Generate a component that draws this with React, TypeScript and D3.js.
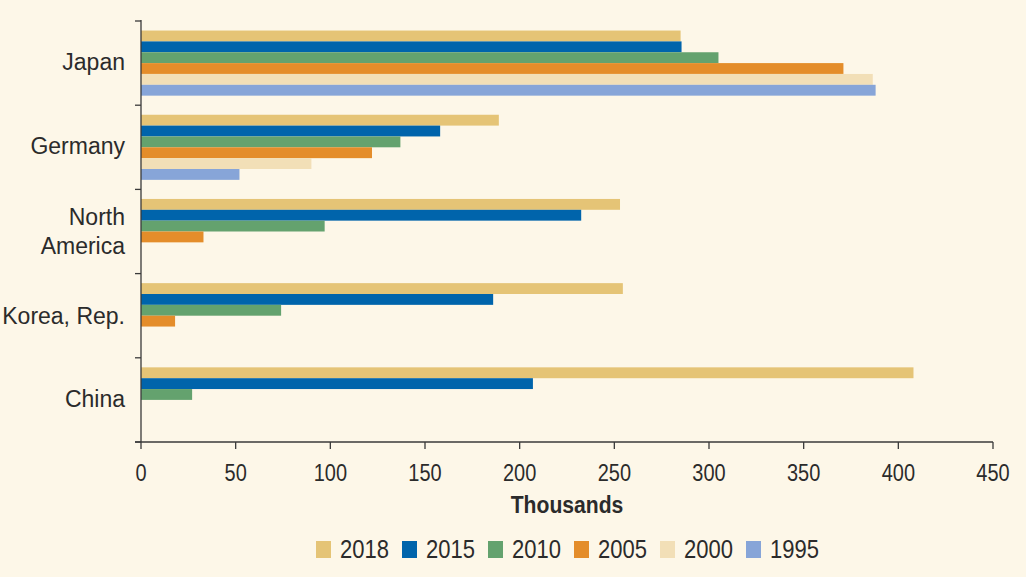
import React from "react";
import * as d3 from "d3";

const categories = ["Japan", "Germany", "North America", "Korea, Rep.", "China"];
const years = ["2018", "2015", "2010", "2005", "2000", "1995"];
const values2018 = [285, 189, 253, 254.5, 408];
const values2015 = [285.5, 158, 232.5, 186, 207];
const values2010 = [305, 137, 97, 74, 27];
const values2005 = [371, 122, 33, 18, 0];
const values2000 = [386.5, 90, 0, 0, 0];
const values1995 = [388, 52, 0, 0, 0];
const xTicks = [0, 50, 100, 150, 200, 250, 300, 350, 400, 450];
const colors = ["#e5c476", "#0064ab", "#64a26e", "#e48d2a", "#f2dfb7", "#87a5d8"];

const seriesValues = [values2018, values2015, values2010, values2005, values2000, values1995];

export default function App() {
  const W = 1026, H = 577;
  const x = d3.scaleLinear().domain([0, 450]).range([141, 993]);
  const y = d3.scaleBand<string>().domain(categories).range([21, 442]).padding(0);
  const inner = d3.scaleBand<string>().domain(years).range([0, y.bandwidth()]).paddingInner(0).paddingOuter(0.88);
  const axisColor = "#3a3a3a";
  const sans = "'Liberation Sans', Arial, sans-serif";
  const labelOffsets: Record<string, number[]> = {
    "Japan": [6.5],
    "Germany": [7],
    "North America": [-7, 22],
    "Korea, Rep.": [8],
    "China": [6.7],
  };
  const boundaries = categories.map((c) => y(c) as number).concat([442]);
  return (
    <svg width={W} height={H} style={{ position: "absolute", left: 0, top: 0, background: "#fdf7e8" }}>
      <rect x={0} y={0} width={W} height={H} fill="#fdf7e8" />
      {/* bars */}
      {categories.map((c, ci) => (
        <g key={c} transform={`translate(0,${y(c)})`}>
          {years.map((yr, si) => {
            const v = seriesValues[si][ci];
            if (!v) return null;
            return (
              <rect key={yr} x={x(0)} y={inner(yr)} width={x(v) - x(0)} height={inner.bandwidth()} fill={colors[si]} />
            );
          })}
        </g>
      ))}
      {/* y axis */}
      <line x1={141} x2={141} y1={20} y2={442} stroke={axisColor} strokeWidth={1.3} />
      {boundaries.map((b, i) => (
        <line key={i} x1={135} x2={141} y1={b} y2={b} stroke={axisColor} strokeWidth={1.3} />
      ))}
      {categories.map((c) => {
        const center = (y(c) as number) + y.bandwidth() / 2;
        const parts = c === "North America" ? ["North", "America"] : [c];
        return parts.map((p, i) => (
          <text key={c + i} x={125} y={center + labelOffsets[c][i]} textAnchor="end" fontFamily={sans} fontSize={23} fill="#2b2b2b">
            {p}
          </text>
        ));
      })}
      {/* x axis */}
      <line x1={135} x2={993} y1={442} y2={442} stroke={axisColor} strokeWidth={1.3} />
      {xTicks.map((t) => (
        <g key={t}>
          <line x1={x(t)} x2={x(t)} y1={442} y2={449} stroke={axisColor} strokeWidth={1.3} />
          <text transform={`translate(${x(t)},481) scale(0.85,1)`} textAnchor="middle" fontFamily={sans} fontSize={23.5} fill="#2b2b2b">
            {t}
          </text>
        </g>
      ))}
      <text transform={`translate(${(x(0) + x(450)) / 2},513) scale(0.88,1)`} textAnchor="middle" fontFamily={sans} fontWeight="bold" fontSize={24} fill="#2b2b2b">
        Thousands
      </text>
      {/* legend */}
      {years.map((yr, i) => {
        const lx = 316 + i * 86;
        return (
          <g key={yr}>
            <rect x={lx} y={541} width={15} height={17} fill={colors[i]} />
            <text transform={`translate(${lx + 24},557.5) scale(0.88,1)`} fontFamily={sans} fontSize={25} fill="#2b2b2b">
              {yr}
            </text>
          </g>
        );
      })}
    </svg>
  );
}
